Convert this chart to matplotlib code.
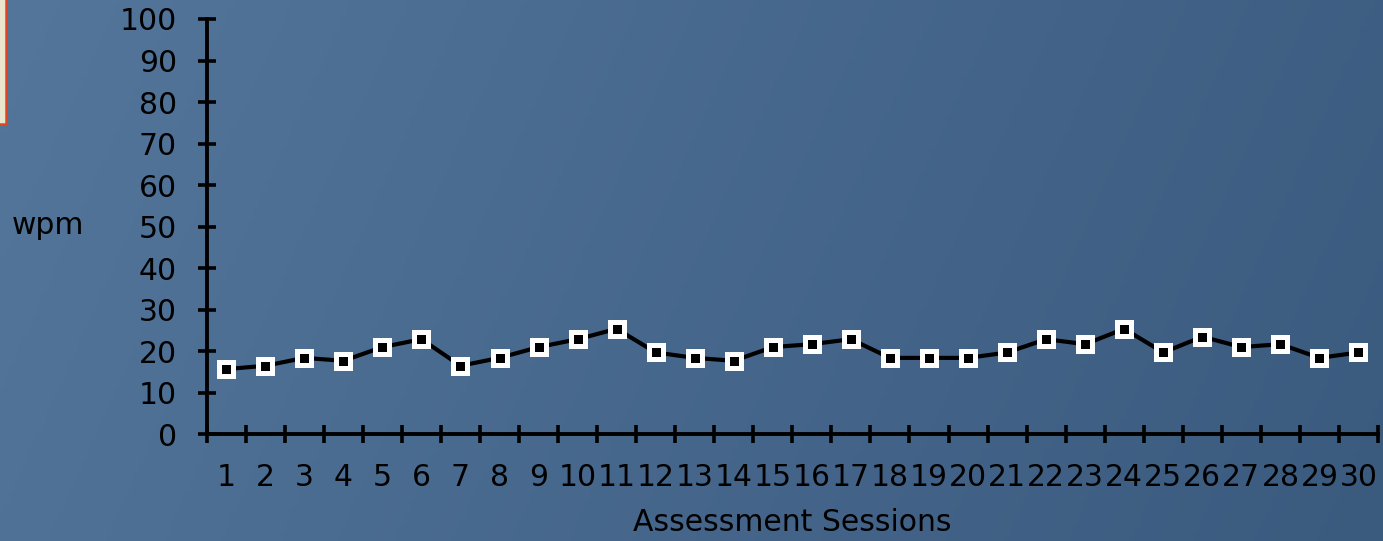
import numpy as np
import matplotlib
matplotlib.use("Agg")
import matplotlib.pyplot as plt
from matplotlib.patches import Rectangle
from matplotlib.transforms import Bbox, TransformedBbox

# words per minute for each assessment session
sessions = list(range(1, 31))
wpm = [15.7, 16.5, 18.4, 17.7, 21.0, 22.9, 16.5, 18.4, 21.0, 22.9,
       25.4, 19.7, 18.4, 17.7, 21.0, 21.7, 22.9, 18.4, 18.4, 18.4,
       19.7, 22.9, 21.7, 25.4, 19.7, 23.5, 21.0, 21.7, 18.4, 19.7]
y_ticks = list(range(0, 101, 10))

W, H = 1383, 541
fig = plt.figure(figsize=(W / 100, H / 100), dpi=100)

# blue gradient backdrop, lighter on the left
bg = fig.add_axes([0, 0, 1, 1], zorder=-10)
gx = np.linspace(0, 1, 300)
gy = np.linspace(0, 1, 120)
tx, ty = np.meshgrid(gx, gy)
t = np.clip(0.85 * tx + 0.15 * ty, 0, 1)
left = np.array([84, 118, 155]) / 255
right = np.array([58, 90, 126]) / 255
img = left[None, None, :] * (1 - t[..., None]) + right[None, None, :] * t[..., None]
bg.imshow(img, aspect="auto", extent=[0, 1, 0, 1], origin="upper")
bg.set_axis_off()

# small framed box peeking in at the top-left corner
fig.patches.append(Rectangle((-0.01, 1 - 124 / H), 0.01 + 6 / W, 124 / H + 0.02,
                             transform=fig.transFigure, facecolor="#ebe7cf",
                             edgecolor="#e2461f", linewidth=1.8, zorder=5))

ax = fig.add_axes([206.7 / W, (H - 434.3) / H, (1378 - 206.7) / W, (434.3 - 19) / H])
ax.patch.set_alpha(0)

ax.plot(sessions, wpm, color="black", linewidth=3.0, marker="s",
        markersize=9.4, markerfacecolor="black", markeredgecolor="white",
        markeredgewidth=3.6, clip_on=False, zorder=3)

ax.set_xlim(0.5, 30.5)
ax.set_ylim(0, 100)

for side in ["top", "right"]:
    ax.spines[side].set_visible(False)
for side in ["left", "bottom"]:
    ax.spines[side].set_linewidth(2.8)
    ax.spines[side].set_color("black")

ax.set_yticks(y_ticks)
ax.set_yticklabels([str(v) for v in y_ticks])
ax.tick_params(axis="y", direction="inout", length=13, width=2.6,
               labelsize=21.5, pad=15)

# ticks sit on the boundaries between sessions, labels in the middle
ax.set_xticks(np.arange(0.5, 31, 1))
ax.set_xticklabels([])
ax.set_xticks(sessions, minor=True)
ax.set_xticklabels([str(s) for s in sessions], minor=True)
ax.tick_params(axis="x", which="major", direction="inout", length=13, width=2.6)
ax.tick_params(axis="x", which="minor", length=0, labelsize=21.5, pad=21)

fig.text(12 / W, (H - 226) / H, "wpm", fontsize=21.5, ha="left", va="center")

xl = fig.text(633 / W, (H - 531) / H, "Assessment Sessions", fontsize=21.5,
              ha="left", va="baseline")
xl.set_clip_box(TransformedBbox(Bbox([[0, 0], [952 / W, 1]]), fig.transFigure))

fig.savefig("out.png", dpi=100)
